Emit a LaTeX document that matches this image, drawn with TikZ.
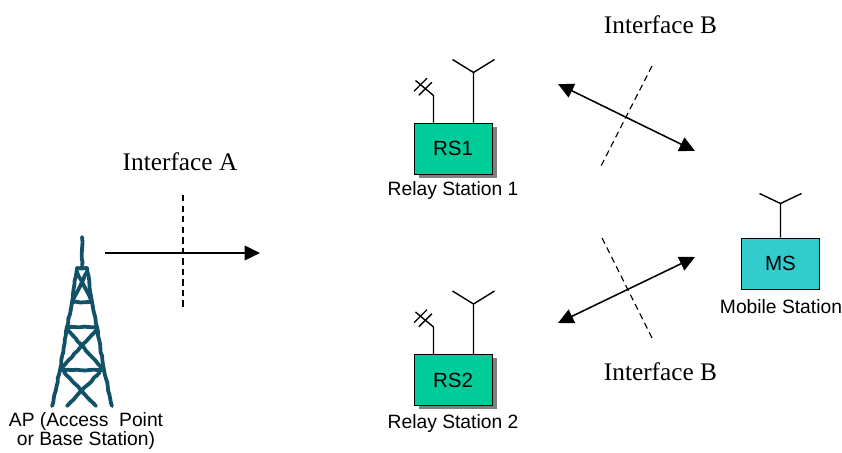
\documentclass[tikz,border=0pt]{standalone}
\usepackage{fontspec}
\setmainfont{Liberation Serif}
\setsansfont{Liberation Sans}
\usetikzlibrary{arrows.meta,calc,shadows,decorations.pathmorphing}
\definecolor{relaygreen}{RGB}{0,204,153}
\definecolor{mobilecyan}{RGB}{51,204,204}
\definecolor{towerteal}{RGB}{18,82,104}

\begin{document}
\begin{tikzpicture}[x=0.025cm, y=-0.025cm,
  >={Triangle[length=11pt,width=10.5pt]},
  station/.style={draw, line width=0.7pt, minimum width=1.95cm,
                  minimum height=1.275cm, inner sep=0pt,
                  font=\sffamily\fontsize{14.6}{16}\selectfont},
  relay/.style={station, fill=relaygreen,
                general shadow={fill=black!50, shadow xshift=3.5pt,
                                shadow yshift=-2.8pt}},
  mobile/.style={station, fill=mobilecyan},
  caption/.style={font=\sffamily\fontsize{13.7}{13.5}\selectfont,
                  align=center, inner sep=0pt},
  iface/.style={font=\fontsize{18}{20}\selectfont, inner sep=0pt},
  wire/.style={line width=1pt},
  link/.style={line width=1.1pt},
  cut/.style={line width=0.8pt, dash pattern=on 4.5pt off 3pt},
  tower/.style={draw=towerteal, line width=2.7pt, line cap=round,
                line join=round, decorate,
                decoration={random steps, segment length=3pt,
                            amplitude=0.35pt}}]
\useasboundingbox (0,0) rectangle (842,453);

% access point tower
\draw[tower] (82,237) -- (82,268);
\draw[tower] (77,268) -- (72,302) -- (67,327) -- (60,370) -- (52,406);
\draw[tower] (87,268) -- (92,302) -- (97,327) -- (104,370) -- (112,406);
\draw[tower] (77,268) -- (87,268);
\draw[tower] (72,302) -- (92,302);
\draw[tower] (67,327) -- (97,327);
\draw[tower] (60,370) -- (104,370);
\draw[tower] (77,272) -- (91,300) (87,272) -- (73,300);
\draw[tower] (67,329) -- (102,368) (97,329) -- (62,368);
\draw[tower] (64,372) -- (96,406) (100,372) -- (67,406);
\node[caption] (ap-name) at (86,431) {AP (Access\ \ Point\\or Base Station)};

% relay stations
\node[relay] (rs1) at (453,148.5) {RS1};
\node[relay] (rs2) at (453,380) {RS2};
\node[caption] (rs1-name) at (453,191) {Relay Station 1};
\node[caption] (rs2-name) at (453,424) {Relay Station 2};

\foreach \r in {rs1,rs2}{
  % main antenna
  \draw[wire] ($(\r.north)+(20.5,0)$) -- ++(0,-50) coordinate (\r-mast)
              -- ++(-21,-13);
  \draw[wire] (\r-mast) -- ++(21,-13);
  % wired link
  \draw[wire] ($(\r.north)+(-19.5,0)$) -- ++(0,-27) coordinate (\r-bend)
              -- ++(-18,-15) coordinate (\r-tip);
  \draw[wire] ($(\r-bend)!0.45!(\r-tip)+(-6.5,6.5)$) -- ++(13,-13);
  \draw[wire] ($(\r-bend)!0.72!(\r-tip)+(-6.5,6.5)$) -- ++(13,-13);
}

% mobile station
\node[mobile] (ms) at (780.5,263.5) {MS};
\node[caption] (ms-name) at (781,307) {Mobile Station};
\draw[wire] (ms.north) -- ++(0,-34) coordinate (ms-mast) -- ++(-21,-10);
\draw[wire] (ms-mast) -- ++(21,-10);

% interface A
\node[iface] (if-a) at (180,162) {Interface A};
\coordinate (a-from) at (105,253);
\coordinate (a-to) at (260,253);
\draw[link,->] (a-from) -- (a-to);
\draw[cut] (183,195) -- (183,310);

% interface B
\node[iface] (if-b1) at (660.5,25) {Interface B};
\node[iface] (if-b2) at (660.5,372) {Interface B};
\coordinate (b1-rs) at (558,84);
\coordinate (b1-ms) at (695,151);
\coordinate (b2-rs) at (558,323);
\coordinate (b2-ms) at (695,257);
\draw[link,<->] (b1-rs) -- (b1-ms);
\draw[link,<->] (b2-rs) -- (b2-ms);
\draw[cut] (652,66) -- (600,168);
\draw[cut] (602,238) -- (652,338);

\end{tikzpicture}
\end{document}
